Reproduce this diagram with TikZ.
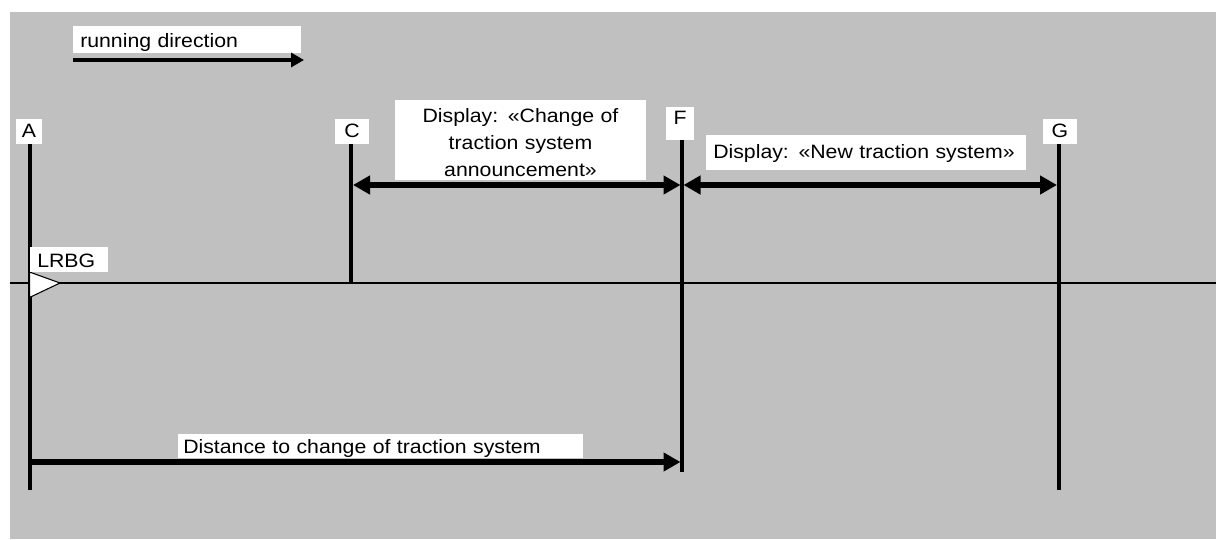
\documentclass[tikz,border=0pt]{standalone}
\usepackage{fontspec}
\setmainfont[FakeStretch=1.1]{Liberation Sans}
\usetikzlibrary{arrows.meta}
\definecolor{bggray}{RGB}{192,192,192}
\begin{document}
\begin{tikzpicture}[x=0.75pt,y=-0.75pt,
  every node/.style={font=\fontsize{14.5}{20.25}\selectfont},
  wbox/.style={fill=white, inner ysep=0pt, inner xsep=5.25pt, align=left},
  lbl/.style={fill=white, inner sep=0pt, text height=13.5pt, text depth=5.25pt, anchor=base},
  post/.style={line width=3pt},
  track/.style={line width=1.3pt},
  dimarr/.style={line width=4.5pt, {Triangle[length=12.75pt,width=13.5pt]}-{Triangle[length=12.75pt,width=13.5pt]}},
  distarr/.style={line width=4.5pt, -{Triangle[length=12.75pt,width=13.5pt]}},
  runarr/.style={line width=2.5pt, -{Triangle[length=9.75pt,width=10.5pt]}}
]
\useasboundingbox (0,0) rectangle (1216,539);
\fill[bggray] (10,12) rectangle (1216,538.5);

% coordinates
\coordinate (Atop) at (29.5,144);
\coordinate (Abot) at (29.5,490);
\coordinate (Ctop) at (351.3,144);
\coordinate (Cbot) at (351.3,283);
\coordinate (Ftop) at (682,140);
\coordinate (Fbot) at (682,472);
\coordinate (Gtop) at (1058.8,144);
\coordinate (Gbot) at (1058.8,490);
\coordinate (trackL) at (10,283);
\coordinate (trackR) at (1216,283);

% track and posts
\draw[track] (trackL) -- (trackR);
\draw[post] (Atop) -- (Abot);
\draw[post] (Ctop) -- (Cbot);
\draw[post] (Ftop) -- (Fbot);
\draw[post] (Gtop) -- (Gbot);

% LRBG balise symbol
\draw[fill=white, line width=0.8pt] (29.5,272) -- (60,283) -- (29.5,297.5) -- cycle;

% labels of posts
\node[lbl, minimum width=19.5pt] (labA) at (29,137) {A};
\node[lbl, minimum width=25.5pt] (labC) at (352,137) {C};
\node[lbl, minimum width=21pt, text height=12.75pt, text depth=12pt] (labF) at (680,124) {F};
\node[lbl, minimum width=25.5pt] (labG) at (1060,137) {G};

% text boxes
\node[wbox, anchor=base west, text width=160.5pt, text height=15.75pt, text depth=4.5pt] (run) at (73,47) {running direction};
\node[wbox, anchor=base west, text width=48pt, text height=15pt, text depth=3.75pt] (lrbg) at (30,267) {LRBG};
\node[wbox, anchor=base west, inner xsep=3.75pt, text width=296.25pt, text height=14.25pt, text depth=3.75pt] (dist) at (178,453) {Distance to change of traction system};
\node[wbox, anchor=base west, text width=229.5pt, text height=17.25pt, text depth=9pt] (newts) at (706,158) {Display: «New traction system»};
\node[fill=white, inner sep=0pt, anchor=base, text width=188.25pt, align=center, text height=16.5pt, text depth=43.5pt] (cfann) at (520.5,122) {Display: «Change of\\traction system\\announcement»};

% arrows
\coordinate (runS) at (73,60);
\coordinate (runE) at (304,60);
\coordinate (cfL) at (353,185);
\coordinate (cfR) at (680.5,185);
\coordinate (fgL) at (683.5,185);
\coordinate (fgR) at (1057,185);
\coordinate (dS) at (31,462);
\coordinate (dE) at (680.5,462);
\draw[runarr] (runS) -- (runE);
\draw[dimarr] (cfL) -- (cfR);
\draw[dimarr] (fgL) -- (fgR);
\draw[distarr] (dS) -- (dE);
\end{tikzpicture}
\end{document}
